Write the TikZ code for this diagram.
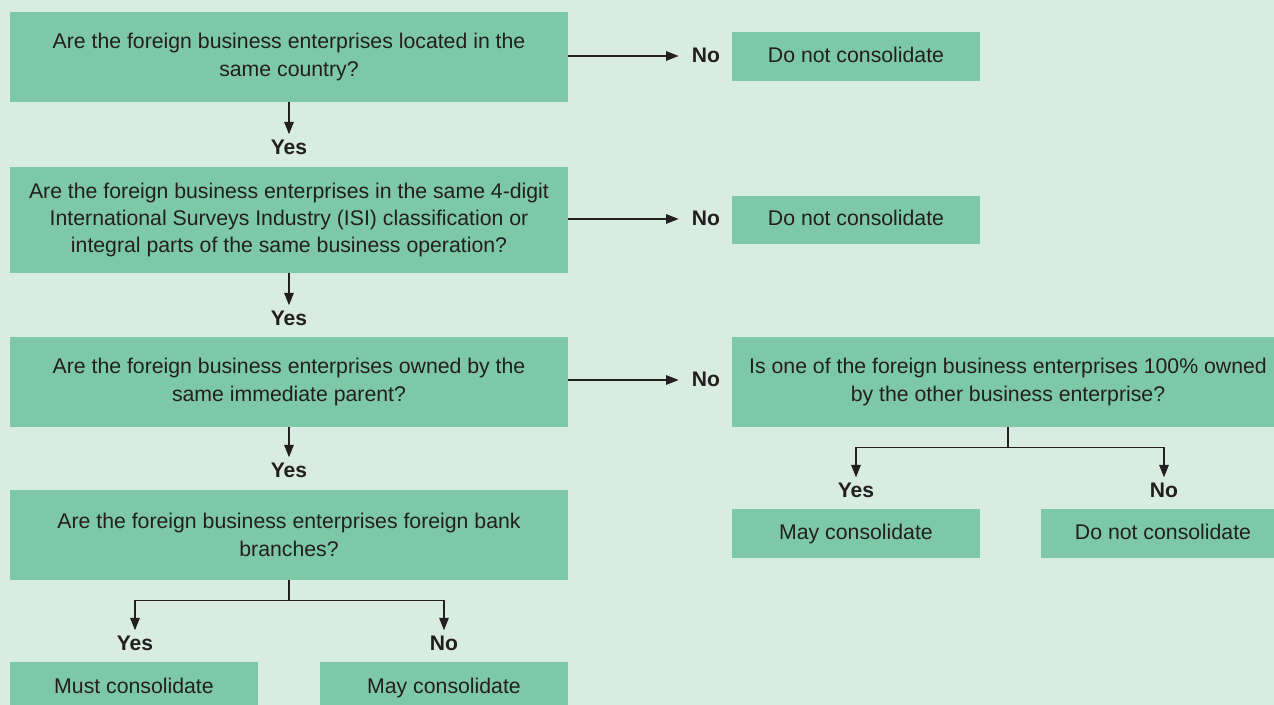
\documentclass[tikz,border=0pt]{standalone}
\usepackage{fontspec}
\setmainfont{Liberation Sans}
\usetikzlibrary{arrows.meta}
\definecolor{bggreen}{HTML}{D8ECE2}
\definecolor{boxgreen}{HTML}{7DC8A7}
\definecolor{ink}{HTML}{231F20}
\begin{document}
\begin{tikzpicture}[x=0.02cm, y=-0.02cm,
  font=\fontsize{12.1}{15.6}\selectfont, text=ink,
  qbox/.style={fill=boxgreen, inner sep=0, minimum width=11.16cm, minimum height=1.8cm, align=center},
  rbox/.style={fill=boxgreen, inner sep=0, minimum width=4.96cm, minimum height=0.97cm, text height=0.72em, text depth=0.06em},
  lbl/.style={font=\fontsize{12}{14}\selectfont\bfseries, inner sep=0, text height=0.72em, text depth=0pt},
  arr/.style={draw=ink, line width=0.8pt, -{Triangle[length=0.25cm, width=0.19cm]}}]
\fill[bggreen] (0, 0) rectangle (1274, 705);
\useasboundingbox (0, 0) rectangle (1274, 705);
\node[qbox] (q1) at (289, 57) {Are the foreign business enterprises located in the\\same country?};
\node[qbox, minimum height=2.12cm] (q2) at (289, 220) {Are the foreign business enterprises in the same 4-digit\\International Surveys Industry (ISI) classification or\\integral parts of the same business operation?};
\node[qbox] (q3) at (289, 382) {Are the foreign business enterprises owned by the\\same immediate parent?};
\node[qbox] (q5) at (289, 535) {Are the foreign business enterprises foreign bank\\branches?};
\node[qbox, minimum width=11.04cm] (q4) at (1008, 382) {Is one of the foreign business enterprises 100\% owned\\by the other business enterprise?};
\node[rbox] (d1) at (856, 56.5) {Do not consolidate};
\node[rbox] (d2) at (856, 220) {Do not consolidate};
\node[rbox] (d3) at (856, 533.5) {May consolidate};
\node[rbox, minimum width=4.88cm] (d4) at (1163, 533.5) {Do not consolidate};
\node[rbox, minimum height=1.04cm] (m1) at (134, 688) {Must consolidate};
\node[rbox, minimum height=1.04cm] (m2) at (444, 688) {May consolidate};
\node[lbl] (no1) at (706, 56) {No};
\node[lbl] (no2) at (706, 219) {No};
\node[lbl] (no3) at (706, 380) {No};
\node[lbl] (yes1) at (289, 148) {Yes};
\node[lbl] (yes2) at (289, 319) {Yes};
\node[lbl] (yes3) at (289, 471) {Yes};
\node[lbl] (yes4) at (856, 491) {Yes};
\node[lbl] (no4) at (1164, 491) {No};
\node[lbl] (yes5) at (135, 644) {Yes};
\node[lbl] (no5) at (444, 644) {No};
\draw[arr, shorten >=0.26cm] (q1.east |- no1) -- (no1.west);
\draw[arr, shorten >=0.26cm] (q2.east |- no2) -- (no2.west);
\draw[arr, shorten >=0.26cm] (q3.east |- no3) -- (no3.west);
\draw[arr, shorten >=0.14cm] (q1.south) -- (yes1.north);
\draw[arr, shorten >=0.14cm] (q2.south) -- (yes2.north);
\draw[arr, shorten >=0.14cm] (q3.south) -- (yes3.north);
\draw[arr, shorten >=0.14cm] (q4.south) -- ++(0, 20) -| (yes4.north);
\draw[arr, shorten >=0.14cm] (q4.south) -- ++(0, 20) -| (no4.north);
\draw[arr, shorten >=0.14cm] (q5.south) -- ++(0, 20) -| (yes5.north);
\draw[arr, shorten >=0.14cm] (q5.south) -- ++(0, 20) -| (no5.north);
\end{tikzpicture}
\end{document}
